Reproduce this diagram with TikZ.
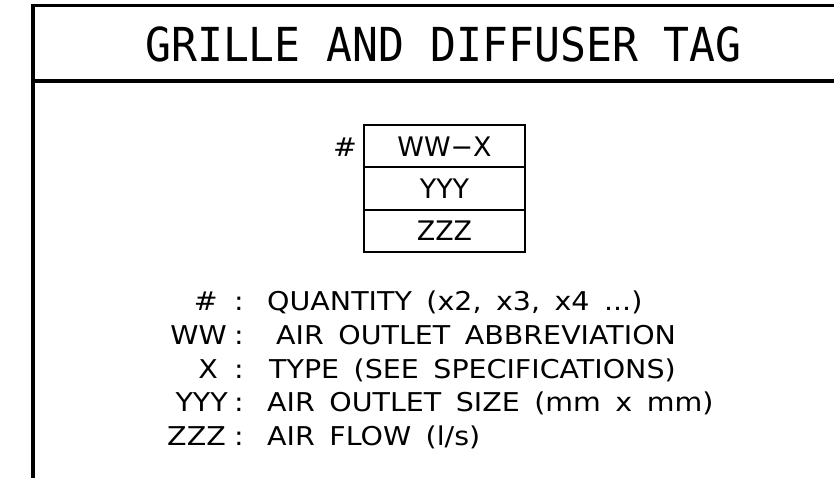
\documentclass[tikz,border=0pt]{standalone}
\usepackage{fontspec}
\newfontfamily\titlefont[FakeStretch=0.92]{DejaVu Sans Mono}
\newfontfamily\legfont[FakeStretch=1.1,WordSpace=1.6]{DejaVu Sans}
\newfontfamily\tagfont{DejaVu Sans}
\tikzset{
  frame/.style={line width=3.5bp, line join=miter, black},
  cell/.style={draw, line width=1.8bp, rectangle, minimum width=161bp, minimum height=42.3bp, inner sep=0pt,
               font=\tagfont\fontsize{27}{27}\selectfont},
  leg/.style={inner sep=0pt, font=\legfont\fontsize{26}{26}\selectfont},
  ttl/.style={inner sep=0pt, font=\titlefont\fontsize{47}{47}\selectfont}
}
\begin{document}
\begin{tikzpicture}[x=1bp,y=-1bp]
\useasboundingbox (0,0) rectangle (834,478);
\fill[white] (0,0) rectangle (834,478);
% frame
\draw[frame] (845,5.5) -- (33,5.5) -- (33,485);
\draw[frame] (33,81) -- (845,81);
% title
\node[ttl, anchor=base] (title) at (443.5,62) {GRILLE AND DIFFUSER TAG};
% tag
\node[cell] (r1) at (444.5,146.2) {WW−X};
\node[cell] (r2) at (444.5,188.5) {YYY};
\node[cell] (r3) at (444.5,230.8) {ZZZ};
\node[leg, anchor=base] (qty) at (345,157) {\#};
% legend
\node[leg, anchor=base east] (a1) at (218,311) {\#};
\node[leg, anchor=base] (c1) at (239,311) {:};
\node[leg, anchor=base west] (d1) at (267,311) {QUANTITY (x2, x3, x4 ...)};
\node[leg, anchor=base east] (a2) at (227,344) {WW};
\node[leg, anchor=base] (c2) at (239,344) {:};
\node[leg, anchor=base west] (d2) at (276,344) {AIR OUTLET ABBREVIATION};
\node[leg, anchor=base east] (a3) at (218,378) {X};
\node[leg, anchor=base] (c3) at (239,378) {:};
\node[leg, anchor=base west] (d3) at (269,378) {TYPE (SEE SPECIFICATIONS)};
\node[leg, anchor=base east] (a4) at (228,411) {YYY};
\node[leg, anchor=base] (c4) at (239,411) {:};
\node[leg, anchor=base west] (d4) at (267,411) {AIR OUTLET SIZE (mm x mm)};
\node[leg, anchor=base east] (a5) at (226,445) {ZZZ};
\node[leg, anchor=base] (c5) at (239,445) {:};
\node[leg, anchor=base west] (d5) at (267,445) {AIR FLOW (l/s)};
\end{tikzpicture}
\end{document}
